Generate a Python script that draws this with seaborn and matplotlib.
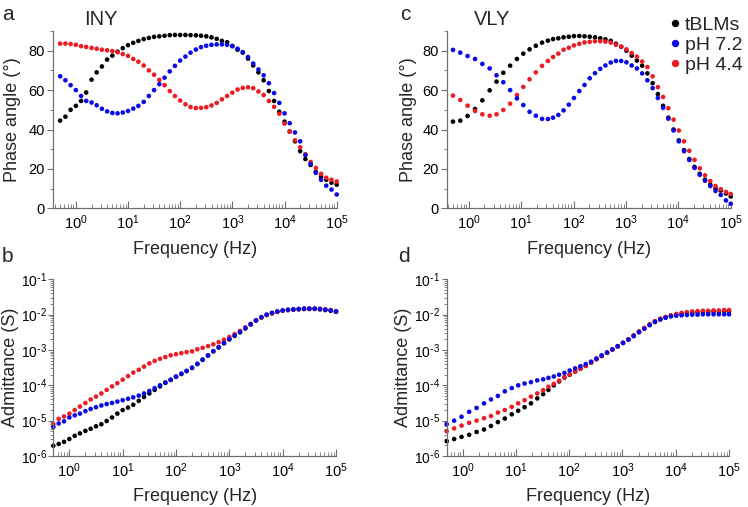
import numpy as np
import pandas as pd
import matplotlib
matplotlib.use("Agg")
import matplotlib.pyplot as plt
import seaborn as sns
from matplotlib.ticker import LogLocator, MultipleLocator, NullFormatter, FuncFormatter

# sweep frequencies (Hz)
FREQ_INY = [0.501, 0.631, 0.794, 1.0, 1.26, 1.58, 2.0, 2.51, 3.16, 3.98,
            5.01, 6.31, 7.94, 10, 12.6, 15.8, 20, 25.1, 31.6, 39.8,
            50.1, 63.1, 79.4, 100, 126, 158, 200, 251, 316, 398,
            501, 631, 794, 1000, 1259, 1585, 1995, 2512, 3162, 3981,
            5012, 6310, 7943, 10000, 12589, 15849, 19953, 25119, 31623, 39811,
            50119, 63096, 79433, 100000]
FREQ_VLY = [0.5, 0.69, 0.95, 1.32, 1.82, 2.51, 3.39, 4.57, 6.17, 8.32,
            11.0, 14.5, 19.1, 25.1, 32.4, 40.7, 51.3, 64.6, 81.3, 102,
            129, 162, 204, 257, 324, 407, 513, 646, 813, 1023,
            1288, 1622, 2042, 2570, 3236, 4074, 5129, 6457, 8128, 10233,
            12882, 16218, 20417, 25704, 32359, 40738, 51286, 64565, 81283, 100000]

LABELS = ["tBLMs", "pH 7.2", "pH 4.4"]
COLORS = {"tBLMs": "#000000", "pH 7.2": "#0a0ae6", "pH 4.4": "#ec1c24"}

# phase angle (deg), INY
phase_iny_tblm = [44.5, 46.5, 50, 52, 54.5, 58.8, 65.3, 69, 72, 75.5,
                  77.5, 79.5, 81.3, 82.8, 84, 85, 85.9, 86.5, 87, 87.3,
                  87.6, 87.9, 88, 88, 88, 87.9, 87.8, 87.6, 87.3, 86.8,
                  86, 85, 84.3, 82.4, 80.5, 79, 76, 72.5, 69, 65,
                  59.5, 54.5, 49, 44, 39, 34, 29, 25, 22, 18.5,
                  16, 14.5, 13, 12]
phase_iny_ph72 = [67, 65, 62.5, 60, 57, 54.5, 53.7, 52.3, 50.5, 49.2,
                  48.4, 48.2, 48.6, 49.4, 50.6, 52, 54, 57, 60, 63,
                  66.3, 69.5, 72.3, 75, 77, 79, 80.6, 81.8, 82.5, 83,
                  83.2, 83.2, 83, 82.3, 81, 79.3, 76.8, 73.5, 70.5, 67.5,
                  63.5, 58.5, 53.5, 48.2, 43.2, 38.5, 34, 27, 22.5, 18,
                  14.5, 11.5, 9.5, 7]
phase_iny_ph44 = [83.6, 83.6, 83.4, 83, 82.3, 81.9, 81.4, 81, 80.5, 80.2,
                  79.8, 79.2, 78.3, 77.4, 75.8, 74.4, 72.5, 70, 67.8, 65.2,
                  62.5, 59.5, 57, 54.7, 52.8, 51.4, 50.9, 51, 51.3, 52.2,
                  53.5, 55.3, 57, 58.7, 60.3, 61.1, 61.4, 61, 59.3, 57.5,
                  54.5, 51.5, 48, 43, 39, 34.5, 31, 27.5, 23.5, 20.5,
                  17.5, 15.5, 14.5, 13.6]

# phase angle (deg), VLY
phase_vly_tblm = [44, 44.5, 46.9, 50.4, 54.8, 59.9, 64.3, 68.8, 72.4, 75.8,
                  78.5, 80.7, 82.5, 84.1, 85.1, 85.9, 86.3, 86.8, 87.1, 87.4,
                  87.5, 87.3, 87.1, 86.8, 86.3, 85.8, 85, 83.5, 82, 80,
                  77.5, 75, 72.4, 68.5, 63.5, 58, 52, 46, 40, 34.5,
                  29.5, 25, 21, 17.5, 14.5, 12, 10, 9, 7.5, 6]
phase_vly_ph72 = [80.4, 79, 77.3, 75.8, 73.3, 71, 67.5, 64, 60, 55.8,
                  52.4, 49, 47, 45.4, 45.3, 46, 47.4, 49.7, 52.6, 56,
                  59.5, 62.6, 66, 68.6, 70.8, 72.5, 74, 74.8, 74.8, 74.1,
                  72.5, 71, 68.5, 65, 61, 56, 51, 45.5, 39.5, 34,
                  29, 24.5, 20.5, 17, 14, 11.3, 8.8, 6.8, 4, 2.3]
phase_vly_ph44 = [57.2, 55, 52.1, 49.4, 47.7, 47, 47.7, 49.9, 53.1, 57.5,
                  61.6, 65.5, 69, 72.3, 74.8, 76.8, 78.5, 80.5, 81.5, 82.7,
                  83.5, 84.2, 84.5, 84.8, 84.8, 84.6, 84.1, 83, 82.1, 80.7,
                  78.8, 77, 74.5, 71.7, 67, 61.5, 56.5, 50.8, 45, 39.5,
                  34, 29.2, 24.6, 20.3, 16.7, 13.8, 11.3, 9.7, 8.3, 7.3]

# admittance, log10(S), INY
adm_iny_tblm = [-5.71, -5.66, -5.6, -5.52, -5.43, -5.36, -5.29, -5.23, -5.16, -5.1,
                -5.01, -4.91, -4.8, -4.7, -4.63, -4.55, -4.44, -4.33, -4.23, -4.13,
                -4.03, -3.93, -3.85, -3.76, -3.68, -3.6, -3.51, -3.4, -3.28, -3.16,
                -3.04, -2.93, -2.81, -2.7, -2.6, -2.5, -2.39, -2.28, -2.17, -2.08,
                -2.01, -1.96, -1.92, -1.89, -1.87, -1.86, -1.85, -1.84, -1.84, -1.84,
                -1.85, -1.87, -1.89, -1.92]
adm_iny_ph72 = [-5.18, -5.08, -5.02, -4.91, -4.85, -4.8, -4.73, -4.67, -4.62, -4.57,
                -4.53, -4.5, -4.46, -4.42, -4.38, -4.34, -4.29, -4.23, -4.16, -4.08,
                -4.0, -3.92, -3.84, -3.75, -3.67, -3.59, -3.5, -3.39, -3.27, -3.15,
                -3.03, -2.92, -2.8, -2.69, -2.59, -2.49, -2.38, -2.27, -2.16, -2.07,
                -2.0, -1.95, -1.91, -1.88, -1.86, -1.85, -1.84, -1.83, -1.83, -1.83,
                -1.84, -1.86, -1.88, -1.91]
adm_iny_ph44 = [-5.1, -4.95, -4.88, -4.8, -4.7, -4.6, -4.5, -4.4, -4.32, -4.23,
                -4.13, -4.03, -3.94, -3.84, -3.74, -3.64, -3.56, -3.47, -3.38, -3.31,
                -3.25, -3.2, -3.15, -3.12, -3.09, -3.06, -3.04, -2.98, -2.94, -2.89,
                -2.84, -2.78, -2.71, -2.63, -2.55, -2.46, -2.36, -2.26, -2.16, -2.08,
                -2.01, -1.96, -1.92, -1.89, -1.87, -1.85, -1.84, -1.83, -1.83, -1.83,
                -1.84, -1.85, -1.87, -1.9]

# admittance, log10(S), VLY
adm_vly_tblm = [-5.58, -5.52, -5.46, -5.4, -5.32, -5.25, -5.15, -5.04, -4.94, -4.82,
                -4.72, -4.62, -4.51, -4.37, -4.25, -4.13, -4.0, -3.89, -3.78, -3.7,
                -3.61, -3.53, -3.45, -3.36, -3.26, -3.17, -3.08, -2.99, -2.9, -2.8,
                -2.7, -2.59, -2.48, -2.38, -2.28, -2.19, -2.12, -2.07, -2.03, -2.0,
                -1.97, -1.95, -1.94, -1.93, -1.92, -1.92, -1.91, -1.91, -1.9, -1.9]
adm_vly_ph72 = [-5.1, -5.0, -4.89, -4.75, -4.64, -4.51, -4.4, -4.3, -4.17, -4.08,
                -4.0, -3.95, -3.91, -3.86, -3.83, -3.79, -3.75, -3.7, -3.65, -3.58,
                -3.52, -3.46, -3.4, -3.33, -3.24, -3.15, -3.07, -2.98, -2.89, -2.8,
                -2.71, -2.61, -2.5, -2.4, -2.3, -2.21, -2.14, -2.09, -2.05, -2.03,
                -2.02, -2.01, -2.0, -2.0, -1.99, -1.99, -1.99, -1.99, -1.99, -1.99]
adm_vly_ph44 = [-5.3, -5.22, -5.14, -5.06, -5.0, -4.93, -4.87, -4.77, -4.7, -4.61,
                -4.51, -4.42, -4.32, -4.23, -4.14, -4.04, -3.96, -3.87, -3.77, -3.69,
                -3.61, -3.53, -3.45, -3.36, -3.26, -3.17, -3.08, -2.99, -2.9, -2.8,
                -2.7, -2.59, -2.48, -2.38, -2.28, -2.19, -2.12, -2.07, -2.02, -1.98,
                -1.95, -1.93, -1.91, -1.9, -1.89, -1.89, -1.88, -1.88, -1.87, -1.87]


def make_frame(freq, tblm, ph72, ph44, log_values=False):
    # draw order: black, red, blue
    parts = []
    for lab, vals in (("tBLMs", tblm), ("pH 4.4", ph44), ("pH 7.2", ph72)):
        v = np.asarray(vals, dtype=float)
        if log_values:
            v = 10 ** v
        parts.append(pd.DataFrame({"freq": freq, "value": v, "sample": lab}))
    return pd.concat(parts, ignore_index=True)


def neg_power(v, pos):
    # short hyphen-like minus, as in the original figure
    return r"$\mathdefault{10^{\text{-}%d}}$" % int(round(-np.log10(v)))


sns.set_style("ticks")
plt.rcParams["font.family"] = ["Liberation Sans", "DejaVu Sans"]
plt.rcParams["axes.edgecolor"] = "#707070"
plt.rcParams["xtick.color"] = "#707070"
plt.rcParams["ytick.color"] = "#707070"
plt.rcParams["xtick.labelcolor"] = "black"
plt.rcParams["ytick.labelcolor"] = "black"

W, H = 748, 507
fig = plt.figure(figsize=(W / 100, H / 100), dpi=100)


def px_axes(left, top, right, bottom):
    return fig.add_axes([left / W, 1 - bottom / H, (right - left) / W, (bottom - top) / H])


ax_a = px_axes(53.3, 31.0, 336.7, 208.3)
ax_c = px_axes(447.3, 31.0, 730.7, 208.3)
ax_b = px_axes(53.3, 279.3, 336.0, 456.0)
ax_d = px_axes(446.7, 279.3, 729.0, 456.0)

panels = [
    (ax_a, make_frame(FREQ_INY, phase_iny_tblm, phase_iny_ph72, phase_iny_ph44), False, 0.37, -0.114),
    (ax_c, make_frame(FREQ_VLY, phase_vly_tblm, phase_vly_ph72, phase_vly_ph44), False, 0.39, -0.108),
    (ax_b, make_frame(FREQ_INY, adm_iny_tblm, adm_iny_ph72, adm_iny_ph44, True), True, 0.5, -0.12),
    (ax_d, make_frame(FREQ_VLY, adm_vly_tblm, adm_vly_ph72, adm_vly_ph44, True), True, 0.5, -0.122),
]

for ax, df, ylog, xmin, label_x in panels:
    sns.scatterplot(data=df, x="freq", y="value", hue="sample", hue_order=LABELS,
                    palette=COLORS, s=11, linewidth=0, ax=ax,
                    legend=(ax is ax_c), clip_on=False)
    ax.set_xscale("log")
    ax.set_xlim(xmin, 1e5)
    ax.xaxis.set_major_locator(LogLocator(base=10, numticks=10))
    ax.xaxis.set_minor_locator(LogLocator(base=10, subs=np.arange(2, 10), numticks=20))
    ax.xaxis.set_minor_formatter(NullFormatter())
    ax.tick_params(axis="x", which="major", direction="in", length=5, width=0.8, labelsize=10.5, pad=4)
    ax.tick_params(axis="x", which="minor", direction="in", length=3, width=0.6)
    if ylog:
        ax.set_yscale("log")
        ax.set_ylim(1e-6, 1e-1)
        ax.yaxis.set_major_locator(LogLocator(base=10, numticks=10))
        ax.yaxis.set_minor_locator(LogLocator(base=10, subs=np.arange(2, 10), numticks=20))
        ax.yaxis.set_major_formatter(FuncFormatter(neg_power))
        ax.yaxis.set_minor_formatter(NullFormatter())
        ax.set_ylabel("Admittance (S)", fontsize=13)
        ax.tick_params(axis="y", which="major", direction="out", length=3.5, width=0.8, labelsize=10, pad=1)
        ax.tick_params(axis="y", which="minor", direction="out", length=2, width=0.6)
    else:
        ax.set_ylim(0, 90)
        ax.yaxis.set_major_locator(MultipleLocator(20))
        ax.yaxis.set_minor_locator(MultipleLocator(10))
        ax.set_yticks([0, 20, 40, 60, 80])
        ax.set_ylabel("Phase angle (°)", fontsize=13)
        ax.tick_params(axis="y", which="major", direction="out", length=4, width=0.8, labelsize=10.5, pad=2)
        ax.tick_params(axis="y", which="minor", direction="out", length=2.5, width=0.6)
    ax.yaxis.set_label_coords(label_x, 0.5)
    ax.set_xlabel("Frequency (Hz)", fontsize=13, labelpad=6)
    sns.despine(ax=ax)
    for sp in ax.spines.values():
        sp.set_linewidth(0.9)

ax_a.text(0.11, 1.01, "INY", transform=ax_a.transAxes, fontsize=14.5, va="bottom")
ax_c.text(0.094, 1.01, "VLY", transform=ax_c.transAxes, fontsize=14.5, va="bottom")

# legend in the top-right corner
leg = ax_c.get_legend()
handles = leg.legend_handles
labels = [t.get_text() for t in leg.get_texts()]
leg.remove()
fig.legend(handles, labels, loc="upper left", bbox_to_anchor=(670 / W, 1 - 16 / H),
           frameon=False, fontsize=14, markerscale=1.6, handlelength=0.5,
           handletextpad=0.25, labelspacing=0.12, borderpad=0, borderaxespad=0)

for letter, x, y in (("a", 2, 20), ("c", 400, 20), ("b", 2, 262), ("d", 398, 262)):
    fig.text(x / W, 1 - y / H, letter, fontsize=15, va="baseline", ha="left")

fig.savefig("out.png", dpi=100)
